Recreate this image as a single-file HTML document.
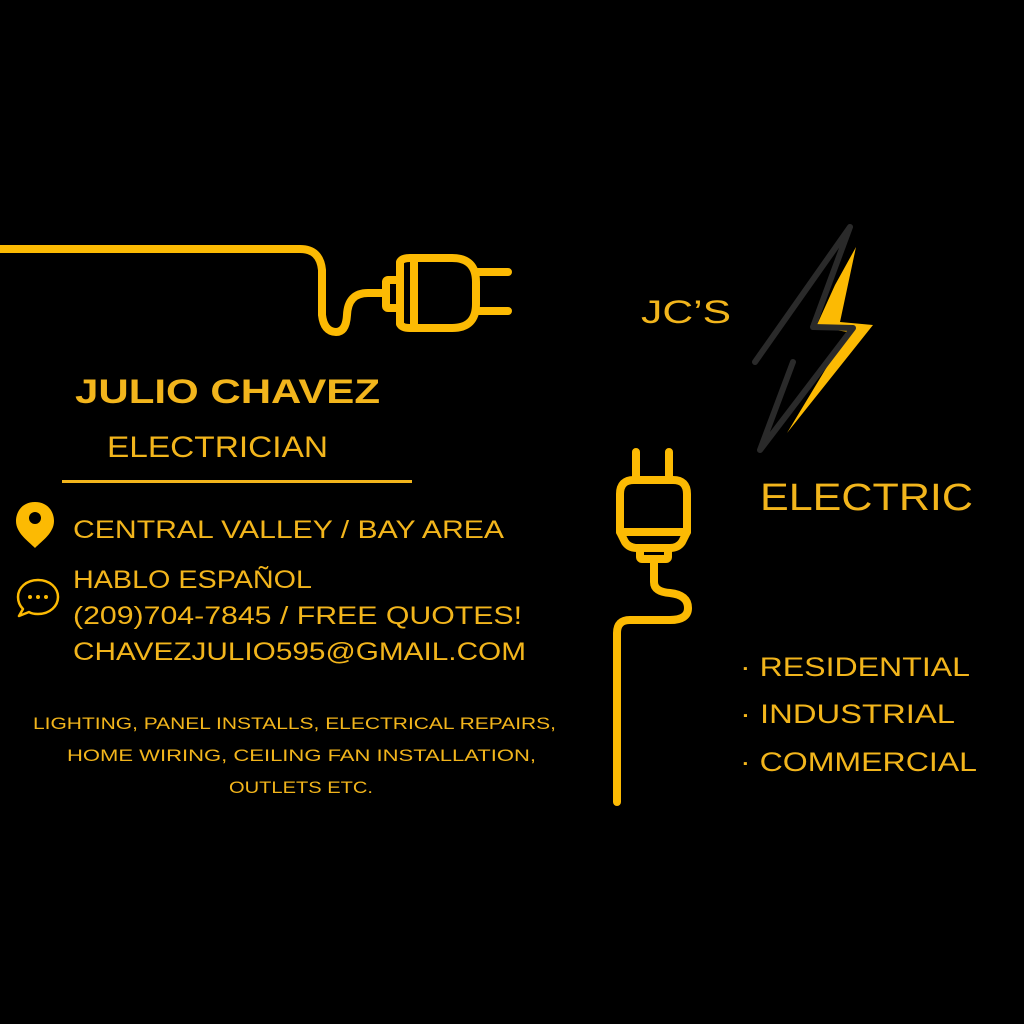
<!DOCTYPE html>
<html><head><meta charset="utf-8"><style>
html,body{margin:0;padding:0;background:#000;}
svg{display:block}
text{font-family:"Liberation Sans",sans-serif;fill:#f2b51c;}
</style></head><body>
<svg width="1024" height="1024" viewBox="0 0 1024 1024" xmlns="http://www.w3.org/2000/svg">
<rect width="1024" height="1024" fill="#000"/>
<g fill="none" stroke="#fcba03" stroke-width="8" stroke-linecap="round" stroke-linejoin="round">
  <path d="M0 249 H300 Q320 249 322 270 V315 Q324 332 336 332 Q346 332 347 315 Q348 293 368 293 H386"/>
  <rect x="386" y="280" width="14" height="28" rx="2"/>
  <path d="M400 262 Q402 258 410 258 H452 Q476 258 476 282 V304 Q476 328 452 328 H410 Q402 328 400 324 Z"/>
  <path d="M414 260 V326"/>
  <path d="M476 272 H508 M476 311 H508"/>
  <path d="M636 452 V478 M669 452 V478"/>
  <path d="M634 480 H673 Q687 480 687 494 V532 L682 542 Q678 548 670 548 H637 Q629 548 625 542 L620 532 V494 Q620 480 634 480 Z"/>
  <path d="M620 532 H687"/>
  <rect x="640" y="548" width="28" height="11" rx="2"/>
  <path d="M654 560 V582 Q654 592 670 593 Q688 595 688 608 Q688 620 670 620 H630 Q617 620 617 633 V802"/>
</g>
<polygon points="856,247 840,322 873,325 787,433 848,332 816,327 835,285" fill="#fcba03"/>
<polyline points="755,362 850,227 813,327 853,328 760,450 793,362" fill="none" stroke="#2a2a2a" stroke-width="6" stroke-linejoin="round" stroke-linecap="round"/>
<path d="M35 502 C22 502 16 512 16 521 C16 533 28 541 35 548 C42 541 54 533 54 521 C54 512 48 502 35 502 Z" fill="#fcba03"/>
<circle cx="35" cy="518" r="6" fill="#000"/>
<path d="M38 580 C26 580 18 588 18 597 C18 602 20 606 23 609 L19 616 L29 612 C32 614 35 614 38 614 C50 614 58 606 58 597 C58 588 50 580 38 580 Z" fill="none" stroke="#fcba03" stroke-width="2.5" stroke-linejoin="round"/>
<circle cx="30" cy="597" r="2" fill="#fcba03"/><circle cx="38" cy="597" r="2" fill="#fcba03"/><circle cx="46" cy="597" r="2" fill="#fcba03"/>
<rect x="62" y="480" width="350" height="3" fill="#f2b51c"/>
<text x="75" y="403" font-size="34" font-weight="bold" textLength="305" lengthAdjust="spacingAndGlyphs">JULIO CHAVEZ</text>
<text x="107" y="457" font-size="30" textLength="221" lengthAdjust="spacingAndGlyphs">ELECTRICIAN</text>
<text x="73" y="538" font-size="25" textLength="431" lengthAdjust="spacingAndGlyphs">CENTRAL VALLEY / BAY AREA</text>
<text x="73" y="588" font-size="25" textLength="239" lengthAdjust="spacingAndGlyphs">HABLO ESPAÑOL</text>
<text x="73" y="624" font-size="25" textLength="449" lengthAdjust="spacingAndGlyphs">(209)704-7845 / FREE QUOTES!</text>
<text x="73" y="660" font-size="25" textLength="453" lengthAdjust="spacingAndGlyphs">CHAVEZJULIO595@GMAIL.COM</text>
<text x="33" y="729" font-size="17" textLength="523" lengthAdjust="spacingAndGlyphs">LIGHTING, PANEL INSTALLS, ELECTRICAL REPAIRS,</text>
<text x="67" y="761" font-size="17" textLength="469" lengthAdjust="spacingAndGlyphs">HOME WIRING, CEILING FAN INSTALLATION,</text>
<text x="229" y="793" font-size="17" textLength="144" lengthAdjust="spacingAndGlyphs">OUTLETS ETC.</text>
<text x="641" y="323" font-size="32" textLength="90" lengthAdjust="spacingAndGlyphs">JC’S</text>
<text x="760" y="510" font-size="38" textLength="213" lengthAdjust="spacingAndGlyphs">ELECTRIC</text>
<text x="740" y="676" font-size="27" textLength="230" lengthAdjust="spacingAndGlyphs">· RESIDENTIAL</text>
<text x="740" y="723" font-size="27" textLength="215" lengthAdjust="spacingAndGlyphs">· INDUSTRIAL</text>
<text x="740" y="771" font-size="27" textLength="237" lengthAdjust="spacingAndGlyphs">· COMMERCIAL</text>
</svg>
</body></html>
